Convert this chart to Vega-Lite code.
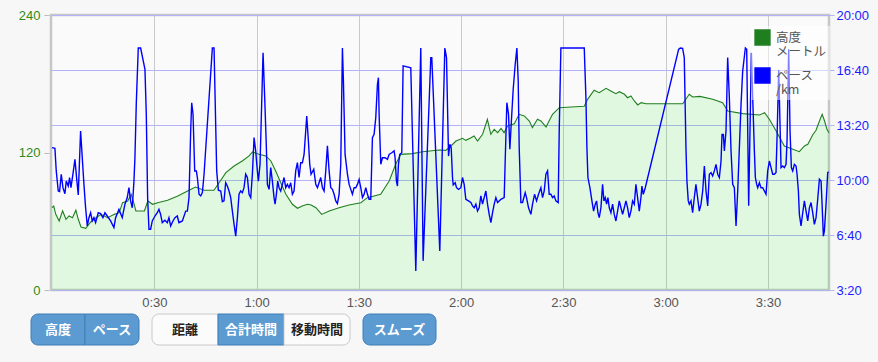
{
"$schema": "https://vega.github.io/schema/vega-lite/v6.json",
"background": "#f7f7f7",
"padding": {"left": 17, "top": 7, "right": 11, "bottom": 21},
"config": {"font": "Liberation Sans", "view": {"stroke": null}},
"datasets": {
"elev": [
{"t":0,"e":71.8},{"t":0.5,"e":73.3},{"t":1.1,"e":66},{"t":2.1,"e":60.2},{"t":3.1,"e":69},{"t":4.1,"e":61.7},{"t":5.0,"e":64.6},{"t":6.0,"e":63.1},{"t":7.0,"e":69.6},{"t":7.7,"e":61.7},{"t":8.5,"e":55},{"t":9.9,"e":53.8},{"t":11.4,"e":59.6},{"t":12.9,"e":63.1},{"t":14.4,"e":66},{"t":16.3,"e":63.1},{"t":18.3,"e":66},{"t":19.7,"e":67.5},{"t":20.7,"e":76.2},{"t":22.2,"e":77.7},{"t":23.2,"e":83.5},{"t":24.1,"e":74.8},{"t":24.6,"e":69},{"t":27.1,"e":69},{"t":28.1,"e":77.7},{"t":29.5,"e":74.8},{"t":31.0,"e":76.2},{"t":33.9,"e":78.3},{"t":36.9,"e":82},{"t":40.2,"e":87},{"t":42.1,"e":89.9},{"t":44.6,"e":87},{"t":47.5,"e":87},{"t":49.0,"e":93.6},{"t":51.0,"e":102.4},{"t":53.4,"e":108.2},{"t":55.8,"e":112.6},{"t":57.8,"e":117},{"t":58.8,"e":120.5},{"t":60.7,"e":118.4},{"t":62.7,"e":117},{"t":64.2,"e":112.6},{"t":65.6,"e":103.9},{"t":67.1,"e":93.6},{"t":68.6,"e":83.5},{"t":70.5,"e":74.8},{"t":72.0,"e":71.3},{"t":73.4,"e":73.3},{"t":74.9,"e":74.8},{"t":76.0,"e":74.2},{"t":77.4,"e":71.8},{"t":79.1,"e":66},{"t":81.3,"e":69},{"t":84.2,"e":71.8},{"t":87.1,"e":74.2},{"t":90.6,"e":76.2},{"t":92.5,"e":80.6},{"t":96.4,"e":83.5},{"t":98.9,"e":95.1},{"t":100.8,"e":109.7},{"t":102.3,"e":118.4},{"t":105.7,"e":119},{"t":108.7,"e":120.7},{"t":113.6,"e":122.2},{"t":115.5,"e":121.9},{"t":117.0,"e":125.7},{"t":118.5,"e":130},{"t":120.4,"e":132.4},{"t":121.4,"e":130.6},{"t":122.9,"e":132.9},{"t":123.8,"e":134.4},{"t":124.8,"e":130},{"t":126.3,"e":135.9},{"t":127.7,"e":149},{"t":128.7,"e":135.9},{"t":129.7,"e":140.2},{"t":130.7,"e":137.3},{"t":131.7,"e":141.1},{"t":132.6,"e":137.3},{"t":133.6,"e":143.1},{"t":135.6,"e":145.1},{"t":137.0,"e":153.3},{"t":138.5,"e":151.9},{"t":140.0,"e":147.5},{"t":140.9,"e":141.7},{"t":142.4,"e":149},{"t":143.4,"e":147.5},{"t":144.9,"e":142.3},{"t":146.8,"e":153.3},{"t":148.8,"e":159.1},{"t":152.3,"e":159.7},{"t":156.1,"e":160.3},{"t":157.1,"e":166.4},{"t":159.0,"e":174.3},{"t":160.5,"e":172.2},{"t":162.5,"e":176},{"t":163.9,"e":173.7},{"t":165.4,"e":171.3},{"t":166.4,"e":173.1},{"t":167.9,"e":170.8},{"t":168.8,"e":167.8},{"t":169.8,"e":169.3},{"t":170.8,"e":165},{"t":171.8,"e":161.5},{"t":172.8,"e":163.5},{"t":174.2,"e":162.6},{"t":185.0,"e":162.6},{"t":186.9,"e":170.8},{"t":187.9,"e":168.4},{"t":190.0,"e":169},{"t":193.8,"e":166.4},{"t":196.7,"e":163.5},{"t":198.2,"e":156.2},{"t":202.6,"e":153.9},{"t":207.5,"e":152.7},{"t":209.0,"e":154.7},{"t":210.4,"e":149},{"t":212.4,"e":138.8},{"t":214.8,"e":125.7},{"t":217.3,"e":122.8},{"t":219.2,"e":120.7},{"t":220.7,"e":125.7},{"t":221.7,"e":127.2},{"t":223.1,"e":135.3},{"t":224.1,"e":139.4},{"t":225.1,"e":147.5},{"t":225.9,"e":153.3},{"t":226.6,"e":147.5},{"t":227.3,"e":140.2},{"t":227.9,"e":137.3}
],
"pace": [
{"t":0,"p":718},{"t":0.85,"p":715},{"t":1.24,"p":633},{"t":1.83,"p":560},{"t":2.22,"p":558},{"t":2.71,"p":621},{"t":3.2,"p":572},{"t":3.78,"p":550},{"t":4.18,"p":596},{"t":4.76,"p":578},{"t":5.15,"p":609},{"t":5.55,"p":572},{"t":6.13,"p":621},{"t":6.72,"p":675},{"t":7.3,"p":596},{"t":7.7,"p":546},{"t":8.38,"p":778},{"t":8.87,"p":681},{"t":9.36,"p":584},{"t":9.85,"p":499},{"t":10.34,"p":433},{"t":10.83,"p":463},{"t":11.32,"p":481},{"t":11.8,"p":451},{"t":12.29,"p":463},{"t":12.78,"p":445},{"t":13.56,"p":481},{"t":14.25,"p":478},{"t":14.93,"p":463},{"t":15.52,"p":481},{"t":16.2,"p":469},{"t":17.18,"p":451},{"t":18.16,"p":427},{"t":18.65,"p":463},{"t":19.63,"p":493},{"t":20.6,"p":463},{"t":21.39,"p":512},{"t":22.07,"p":536},{"t":22.56,"p":572},{"t":23.05,"p":524},{"t":23.54,"p":499},{"t":24.03,"p":596},{"t":24.32,"p":681},{"t":24.71,"p":875},{"t":25.3,"p":1080},{"t":25.99,"p":1080},{"t":27.26,"p":1002},{"t":27.65,"p":839},{"t":28.04,"p":536},{"t":28.43,"p":421},{"t":28.92,"p":421},{"t":29.41,"p":451},{"t":30.19,"p":469},{"t":30.87,"p":481},{"t":31.36,"p":493},{"t":31.85,"p":475},{"t":32.34,"p":445},{"t":33.12,"p":454},{"t":33.81,"p":445},{"t":34.3,"p":463},{"t":34.79,"p":433},{"t":35.47,"p":451},{"t":36.06,"p":463},{"t":36.74,"p":469},{"t":37.23,"p":445},{"t":38.23,"p":451},{"t":39.21,"p":487},{"t":39.7,"p":487},{"t":40.18,"p":536},{"t":40.67,"p":778},{"t":40.97,"p":881},{"t":41.36,"p":839},{"t":41.85,"p":633},{"t":42.34,"p":633},{"t":42.63,"p":609},{"t":43.12,"p":548},{"t":43.61,"p":542},{"t":44.1,"p":554},{"t":44.59,"p":621},{"t":47.03,"p":1080},{"t":47.52,"p":1080},{"t":48.3,"p":633},{"t":48.79,"p":563},{"t":49.48,"p":560},{"t":49.96,"p":521},{"t":50.45,"p":524},{"t":50.94,"p":590},{"t":51.43,"p":578},{"t":51.92,"p":560},{"t":52.41,"p":536},{"t":52.9,"p":487},{"t":53.39,"p":439},{"t":53.88,"p":396},{"t":54.37,"p":463},{"t":54.85,"p":548},{"t":55.34,"p":560},{"t":55.83,"p":554},{"t":56.32,"p":572},{"t":56.81,"p":621},{"t":57.3,"p":609},{"t":57.79,"p":548},{"t":58.28,"p":536},{"t":58.77,"p":621},{"t":59.26,"p":754},{"t":59.74,"p":706},{"t":60.23,"p":633},{"t":60.53,"p":596},{"t":61.01,"p":657},{"t":61.9,"p":1063},{"t":62.38,"p":899},{"t":62.87,"p":718},{"t":63.17,"p":584},{"t":63.66,"p":566},{"t":64.15,"p":645},{"t":64.63,"p":596},{"t":65.12,"p":536},{"t":65.42,"p":512},{"t":65.81,"p":548},{"t":66.2,"p":596},{"t":66.59,"p":572},{"t":67.08,"p":560},{"t":67.57,"p":584},{"t":68.06,"p":609},{"t":68.55,"p":572},{"t":69.04,"p":584},{"t":69.52,"p":572},{"t":70.01,"p":590},{"t":70.5,"p":548},{"t":70.99,"p":560},{"t":71.48,"p":633},{"t":71.97,"p":663},{"t":72.46,"p":609},{"t":72.95,"p":663},{"t":73.44,"p":663},{"t":73.93,"p":693},{"t":74.41,"p":778},{"t":74.71,"p":833},{"t":75.2,"p":742},{"t":75.59,"p":657},{"t":75.98,"p":621},{"t":76.77,"p":639},{"t":77.36,"p":584},{"t":77.85,"p":572},{"t":78.33,"p":590},{"t":78.82,"p":609},{"t":79.31,"p":572},{"t":79.8,"p":560},{"t":80.29,"p":633},{"t":80.78,"p":724},{"t":81.27,"p":633},{"t":81.76,"p":572},{"t":82.25,"p":566},{"t":82.74,"p":548},{"t":83.22,"p":524},{"t":83.71,"p":514},{"t":84.2,"p":548},{"t":84.69,"p":657},{"t":85.18,"p":1080},{"t":85.47,"p":960},{"t":85.96,"p":693},{"t":86.65,"p":621},{"t":87.14,"p":584},{"t":87.63,"p":566},{"t":88.11,"p":548},{"t":88.6,"p":572},{"t":89.09,"p":572},{"t":89.58,"p":584},{"t":90.07,"p":602},{"t":90.56,"p":572},{"t":91.05,"p":536},{"t":91.54,"p":548},{"t":92.03,"p":572},{"t":92.52,"p":548},{"t":93.0,"p":530},{"t":93.49,"p":530},{"t":93.98,"p":754},{"t":94.47,"p":766},{"t":94.96,"p":827},{"t":95.45,"p":948},{"t":95.74,"p":972},{"t":95.94,"p":839},{"t":96.43,"p":657},{"t":96.92,"p":681},{"t":97.7,"p":681},{"t":98.38,"p":675},{"t":98.87,"p":693},{"t":99.65,"p":699},{"t":100.34,"p":706},{"t":100.63,"p":681},{"t":101.02,"p":596},{"t":101.32,"p":578},{"t":101.61,"p":657},{"t":102.0,"p":693},{"t":102.59,"p":699},{"t":102.98,"p":1015},{"t":105.23,"p":1008},{"t":106.7,"p":269},{"t":108.16,"p":1080},{"t":108.85,"p":306},{"t":111.1,"p":1045},{"t":111.39,"p":1045},{"t":113.74,"p":342},{"t":115.22,"p":1080},{"t":115.71,"p":1045},{"t":116.3,"p":687},{"t":116.69,"p":730},{"t":117.08,"p":718},{"t":117.47,"p":609},{"t":117.67,"p":582},{"t":118.25,"p":590},{"t":118.65,"p":572},{"t":119.23,"p":566},{"t":119.92,"p":572},{"t":120.4,"p":609},{"t":120.89,"p":584},{"t":121.38,"p":530},{"t":122.16,"p":524},{"t":122.85,"p":518},{"t":123.34,"p":506},{"t":123.83,"p":499},{"t":124.32,"p":512},{"t":124.8,"p":487},{"t":125.29,"p":499},{"t":125.78,"p":542},{"t":126.27,"p":512},{"t":126.76,"p":536},{"t":127.25,"p":560},{"t":127.74,"p":512},{"t":128.23,"p":475},{"t":128.72,"p":445},{"t":129.21,"p":481},{"t":129.7,"p":512},{"t":130.19,"p":536},{"t":130.68,"p":518},{"t":131.16,"p":524},{"t":131.65,"p":530},{"t":132.63,"p":536},{"t":132.92,"p":669},{"t":133.41,"p":881},{"t":133.9,"p":839},{"t":134.29,"p":712},{"t":134.68,"p":802},{"t":135.27,"p":930},{"t":135.86,"p":1021},{"t":136.35,"p":1080},{"t":136.74,"p":960},{"t":137.03,"p":718},{"t":137.52,"p":518},{"t":138.01,"p":518},{"t":138.79,"p":554},{"t":139.18,"p":536},{"t":139.77,"p":499},{"t":140.46,"p":475},{"t":140.94,"p":512},{"t":141.53,"p":548},{"t":142.12,"p":524},{"t":142.7,"p":548},{"t":143.39,"p":572},{"t":143.88,"p":536},{"t":144.37,"p":560},{"t":144.86,"p":621},{"t":145.35,"p":633},{"t":145.83,"p":548},{"t":146.32,"p":548},{"t":146.81,"p":536},{"t":147.3,"p":542},{"t":147.79,"p":524},{"t":148.47,"p":518},{"t":148.77,"p":778},{"t":149.26,"p":1080},{"t":156.11,"p":1080},{"t":156.6,"p":899},{"t":156.89,"p":718},{"t":157.19,"p":609},{"t":157.77,"p":572},{"t":158.36,"p":524},{"t":158.85,"p":487},{"t":159.34,"p":512},{"t":159.73,"p":524},{"t":160.12,"p":481},{"t":160.51,"p":463},{"t":161.0,"p":499},{"t":161.49,"p":584},{"t":161.88,"p":524},{"t":162.27,"p":536},{"t":162.66,"p":512},{"t":163.05,"p":536},{"t":163.45,"p":499},{"t":163.94,"p":481},{"t":164.42,"p":512},{"t":164.91,"p":475},{"t":165.4,"p":451},{"t":165.89,"p":487},{"t":166.38,"p":524},{"t":166.87,"p":499},{"t":167.36,"p":475},{"t":167.85,"p":499},{"t":168.34,"p":524},{"t":168.83,"p":499},{"t":169.31,"p":463},{"t":169.8,"p":487},{"t":170.29,"p":524},{"t":170.78,"p":512},{"t":171.27,"p":584},{"t":171.76,"p":536},{"t":172.25,"p":487},{"t":172.74,"p":536},{"t":173.03,"p":578},{"t":173.42,"p":548},{"t":174.01,"p":572},{"t":183.79,"p":1075},{"t":184.28,"p":1080},{"t":184.96,"p":1079},{"t":185.45,"p":1045},{"t":185.94,"p":718},{"t":186.23,"p":596},{"t":186.62,"p":524},{"t":186.92,"p":512},{"t":187.41,"p":524},{"t":187.9,"p":481},{"t":188.39,"p":536},{"t":188.87,"p":584},{"t":189.36,"p":536},{"t":189.85,"p":487},{"t":190.36,"p":512},{"t":190.85,"p":560},{"t":191.34,"p":651},{"t":191.83,"p":560},{"t":192.32,"p":506},{"t":192.8,"p":621},{"t":193.29,"p":627},{"t":193.78,"p":615},{"t":194.27,"p":633},{"t":194.76,"p":657},{"t":195.25,"p":621},{"t":195.74,"p":609},{"t":196.23,"p":669},{"t":196.52,"p":766},{"t":196.91,"p":766},{"t":197.21,"p":706},{"t":197.69,"p":778},{"t":198.18,"p":1045},{"t":198.67,"p":899},{"t":199.16,"p":706},{"t":199.65,"p":584},{"t":200.14,"p":572},{"t":200.63,"p":433},{"t":201.12,"p":560},{"t":201.61,"p":718},{"t":202.1,"p":875},{"t":202.58,"p":996},{"t":203.37,"p":1080},{"t":203.76,"p":1075},{"t":204.34,"p":506},{"t":205.13,"p":1063},{"t":205.52,"p":899},{"t":206.01,"p":706},{"t":206.3,"p":609},{"t":206.69,"p":584},{"t":206.99,"p":572},{"t":207.47,"p":590},{"t":207.96,"p":572},{"t":208.45,"p":572},{"t":208.94,"p":560},{"t":209.43,"p":548},{"t":209.92,"p":633},{"t":210.41,"p":669},{"t":210.9,"p":645},{"t":211.39,"p":621},{"t":211.88,"p":621},{"t":212.36,"p":627},{"t":212.66,"p":754},{"t":213.15,"p":1000},{"t":213.63,"p":754},{"t":213.83,"p":645},{"t":214.32,"p":651},{"t":214.81,"p":645},{"t":215.3,"p":657},{"t":215.59,"p":742},{"t":216.08,"p":1075},{"t":216.47,"p":778},{"t":216.86,"p":645},{"t":217.25,"p":633},{"t":217.74,"p":657},{"t":218.23,"p":651},{"t":218.53,"p":621},{"t":218.92,"p":560},{"t":219.21,"p":475},{"t":219.7,"p":433},{"t":220.19,"p":481},{"t":220.68,"p":524},{"t":221.17,"p":487},{"t":221.66,"p":451},{"t":222.15,"p":499},{"t":222.63,"p":518},{"t":223.12,"p":481},{"t":223.61,"p":439},{"t":224.1,"p":463},{"t":224.59,"p":530},{"t":225.08,"p":603},{"t":225.57,"p":596},{"t":225.87,"p":512},{"t":226.25,"p":396},{"t":226.55,"p":415},{"t":227.03,"p":512},{"t":227.52,"p":627},{"t":227.8,"p":630}
]
},
"spacing": 2,
"vconcat": [
{
"width": 778, "height": 275,
"view": {"stroke": "#c6c6c6", "strokeWidth": 2.5, "fill": "#fafafa"},
"layer": [
{
"layer": [
{"data": {"name": "elev"}, "mark": {"type": "area", "color": "#00ee00", "opacity": 0.1},
 "encoding": {
  "x": {"field": "t", "type": "quantitative", "scale": {"domain": [-0.3, 227.9], "nice": false, "zero": false},
        "axis": {"values": [30, 60, 90, 120, 150, 180, 210], "labelExpr": "floor(datum.value/60) + ':' + (datum.value%60 < 10 ? '0' : '') + (datum.value%60)", "title": null, "grid": true, "gridColor": "#c9c9c9", "gridWidth": 1, "domain": false, "ticks": false, "labelPadding": 6, "labelColor": "#555555", "labelFontSize": 13, "labelFont": "Liberation Sans"}},
  "y": {"field": "e", "type": "quantitative", "scale": {"domain": [0, 240], "nice": false},
        "axis": {"values": [0, 120, 240], "title": null, "grid": false, "domain": false, "tickSize": 5, "tickColor": "#bbbbbb", "offset": 2, "labelPadding": 4, "labelColor": "#2f8a1a", "labelFontSize": 13, "labelFont": "Liberation Sans"}}
 }},
{"data": {"name": "elev"}, "mark": {"type": "line", "strokeWidth": 1.1},
 "encoding": {
  "x": {"field": "t", "type": "quantitative"},
  "y": {"field": "e", "type": "quantitative"},
  "color": {"datum": "高度", "type": "nominal", "scale": {"domain": ["高度", "ペース"], "range": ["#1f7f1f", "#0000ff"]},
    "legend": {"orient": "none", "legendX": 700, "legendY": 11, "title": null, "fillColor": "rgba(255,255,255,0.5)", "padding": 3, "symbolType": "square", "symbolSize": 220, "labelOffset": 5, "rowPadding": 6, "labelFont": "Noto Sans CJK JP", "labelFontSize": 12.5, "labelLineHeight": 14, "labelColor": "#555555",
      "labelExpr": "datum.label == '高度' ? ['高度', 'メートル'] : ['ペース', '/km']",
      "encode": {"symbols": {"update": {"fill": {"scale": "color", "field": "value"}, "stroke": {"value": "#bdbdbd"}, "strokeWidth": {"value": 1.5}, "opacity": {"value": 1}, "shape": {"value": "square"}}}}}}
 }}
]
},
{"data": {"name": "pace"}, "mark": {"type": "line", "strokeWidth": 1.4},
 "encoding": {
  "x": {"field": "t", "type": "quantitative"},
  "y": {"field": "p", "type": "quantitative", "scale": {"domain": [200, 1200], "nice": false, "zero": false},
        "axis": {"orient": "right", "values": [200, 400, 600, 800, 1000, 1200], "labelExpr": "floor(datum.value/60) + ':' + (datum.value%60 < 10 ? '0' : '') + (datum.value%60)", "title": null, "grid": true, "gridColor": "#b3b3f7", "gridWidth": 1, "domain": false, "tickSize": 5, "tickColor": "#b3b3f7", "labelPadding": 2, "labelColor": "#1c1cff", "labelFontSize": 13, "labelFont": "Liberation Sans"}},
  "color": {"datum": "ペース", "type": "nominal"}
 }}
],
"resolve": {"scale": {"y": "independent"}, "axis": {"y": "independent"}}
},
{
"spacing": 11,
"hconcat": [
{
"width": 88, "height": 31,
"data": {"values": [{"b": "高度", "on": true}, {"b": "ペース", "on": true}]},
"encoding": {"x": {"field": "b", "type": "nominal", "scale": {"domain": ["高度", "ペース"], "range": [-20, 88], "paddingInner": 0, "paddingOuter": 0}, "axis": null}},
"layer": [
{"transform": [{"filter": "datum.b == '高度'"}], "mark": {"type": "rect", "cornerRadiusTopLeft": 7, "cornerRadiusBottomLeft": 7, "strokeWidth": 1},
 "encoding": {"fill": {"condition": {"test": "datum.on", "value": "#5b9bd1"}, "value": "#fbfbfb"}, "stroke": {"condition": {"test": "datum.on", "value": "#3f7db5"}, "value": "#c8c8c8"}}},
{"transform": [{"filter": "datum.b == 'ペース'"}], "mark": {"type": "rect", "cornerRadiusTopRight": 7, "cornerRadiusBottomRight": 7, "strokeWidth": 1},
 "encoding": {"fill": {"condition": {"test": "datum.on", "value": "#5b9bd1"}, "value": "#fbfbfb"}, "stroke": {"condition": {"test": "datum.on", "value": "#3f7db5"}, "value": "#c8c8c8"}}},
{"mark": {"type": "text", "font": "Noto Sans CJK JP", "fontWeight": "bold", "fontSize": 13, "baseline": "middle"},
 "encoding": {"text": {"field": "b"}, "color": {"condition": {"test": "datum.on", "value": "#ffffff"}, "value": "#222222"}}}
]
},
{
"width": 198, "height": 31,
"data": {"values": [{"b": "距離", "on": false}, {"b": "合計時間", "on": true}, {"b": "移動時間", "on": false}]},
"encoding": {"x": {"field": "b", "type": "nominal", "scale": {"domain": ["距離", "合計時間", "移動時間"], "paddingInner": 0, "paddingOuter": 0}, "axis": null}},
"layer": [
{"transform": [{"filter": "datum.b == '距離'"}], "mark": {"type": "rect", "cornerRadiusTopLeft": 7, "cornerRadiusBottomLeft": 7, "strokeWidth": 1},
 "encoding": {"fill": {"condition": {"test": "datum.on", "value": "#5b9bd1"}, "value": "#fbfbfb"}, "stroke": {"condition": {"test": "datum.on", "value": "#3f7db5"}, "value": "#c8c8c8"}}},
{"transform": [{"filter": "datum.b == '合計時間'"}], "mark": {"type": "rect", "strokeWidth": 1},
 "encoding": {"fill": {"condition": {"test": "datum.on", "value": "#5b9bd1"}, "value": "#fbfbfb"}, "stroke": {"condition": {"test": "datum.on", "value": "#3f7db5"}, "value": "#c8c8c8"}}},
{"transform": [{"filter": "datum.b == '移動時間'"}], "mark": {"type": "rect", "cornerRadiusTopRight": 7, "cornerRadiusBottomRight": 7, "strokeWidth": 1},
 "encoding": {"fill": {"condition": {"test": "datum.on", "value": "#5b9bd1"}, "value": "#fbfbfb"}, "stroke": {"condition": {"test": "datum.on", "value": "#3f7db5"}, "value": "#c8c8c8"}}},
{"mark": {"type": "text", "font": "Noto Sans CJK JP", "fontWeight": "bold", "fontSize": 13, "baseline": "middle"},
 "encoding": {"text": {"field": "b"}, "color": {"condition": {"test": "datum.on", "value": "#ffffff"}, "value": "#222222"}}}
]
},
{
"width": 73, "height": 31,
"data": {"values": [{"b": "スムーズ", "on": true}]},
"encoding": {"x": {"field": "b", "type": "nominal", "scale": {"paddingInner": 0, "paddingOuter": 0}, "axis": null}},
"layer": [
{"mark": {"type": "rect", "cornerRadius": 7, "strokeWidth": 1},
 "encoding": {"fill": {"condition": {"test": "datum.on", "value": "#5b9bd1"}, "value": "#fbfbfb"}, "stroke": {"condition": {"test": "datum.on", "value": "#3f7db5"}, "value": "#c8c8c8"}}},
{"mark": {"type": "text", "font": "Noto Sans CJK JP", "fontWeight": "bold", "fontSize": 13, "baseline": "middle"},
 "encoding": {"text": {"field": "b"}, "color": {"condition": {"test": "datum.on", "value": "#ffffff"}, "value": "#222222"}}}
]
}
]
}
]
}
